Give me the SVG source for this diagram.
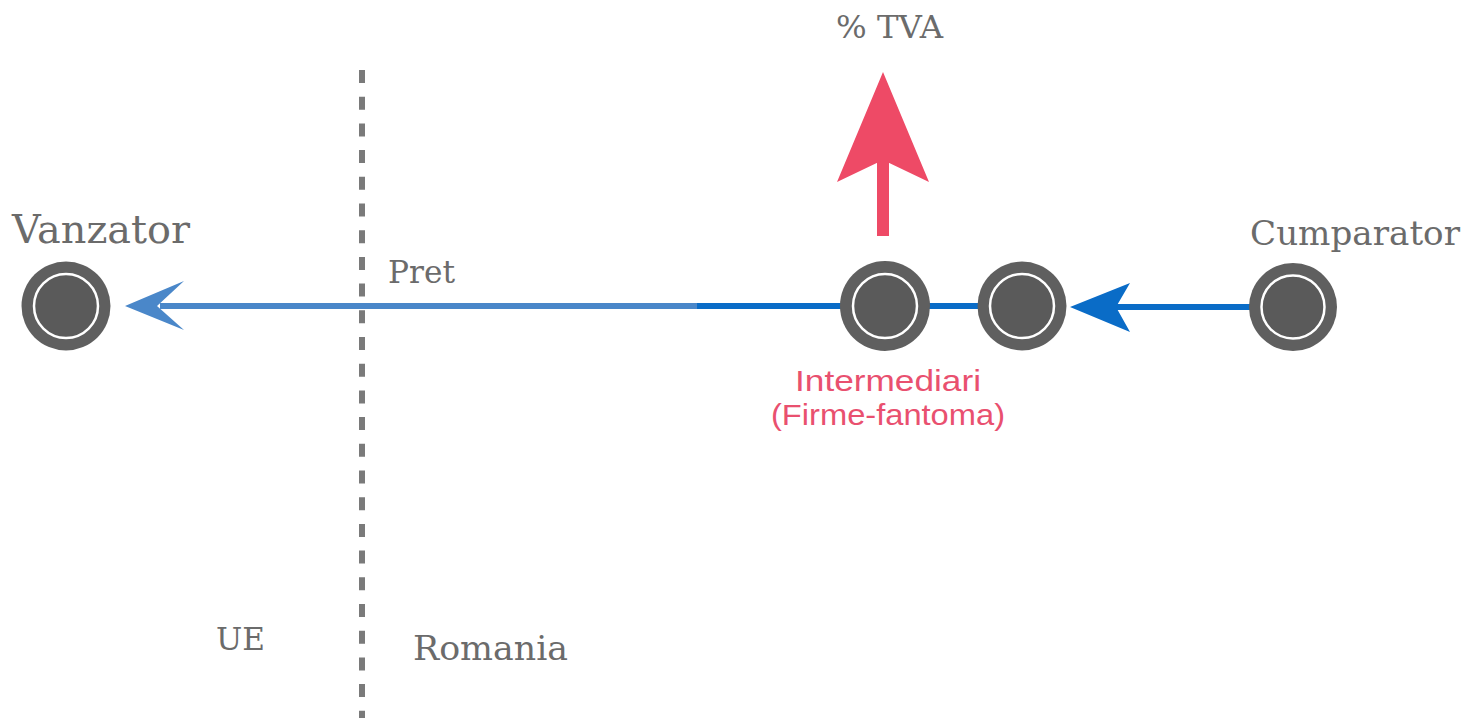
<svg xmlns="http://www.w3.org/2000/svg" width="1468" height="718" viewBox="0 0 1468 718">
<style>
.lbl{font-family:"DejaVu Serif","Liberation Serif",serif;fill:#6b6b6b;}
.pink{font-family:"Liberation Sans","Open Sans",sans-serif;fill:#e9506f;font-size:29px;text-anchor:middle;}
.outer{fill:#5f5f5f;}
.inner{fill:#5a5a5a;stroke:#ffffff;stroke-width:2.5;}
</style>
<rect width="1468" height="718" fill="#ffffff"/>
<line x1="362" y1="70" x2="362" y2="718" stroke="#7a7a7a" stroke-width="6" stroke-dasharray="13 13.7"/>
<g id="connectors">
  <line x1="160" y1="306" x2="700" y2="306" stroke="#4a87c9" stroke-width="6"/>
  <line x1="697" y1="306" x2="845" y2="306" stroke="#0a6cc7" stroke-width="6"/>
  <polygon points="125,306 184,281 157,306 184,330" fill="#4a87c9"/>
  <line x1="925" y1="306" x2="982" y2="306" stroke="#0a6cc7" stroke-width="6"/>
  <line x1="1110" y1="307" x2="1252" y2="307" stroke="#0a6cc7" stroke-width="6"/>
  <polygon points="1070,307 1130,283 1116,307 1130,332" fill="#0a6cc7"/>
  <rect x="877" y="155" width="12" height="81" fill="#ee4a66"/>
  <polygon points="883,72 929,182 883,160 837,182" fill="#ee4a66"/>
</g>
<g id="vanzator">
  <circle class="outer" cx="66" cy="306" r="44.5"/>
  <circle class="inner" cx="66" cy="306" r="32"/>
  <text class="lbl" x="12" y="243" font-size="40" textLength="178" lengthAdjust="spacingAndGlyphs">Vanzator</text>
</g>
<g id="intermediar1">
  <circle class="outer" cx="885" cy="306" r="45"/>
  <circle class="inner" cx="885" cy="306" r="32"/>
</g>
<g id="intermediar2">
  <circle class="outer" cx="1022" cy="306" r="44.5"/>
  <circle class="inner" cx="1022" cy="306" r="32"/>
</g>
<g id="cumparator">
  <circle class="outer" cx="1293" cy="307" r="44"/>
  <circle class="inner" cx="1293" cy="307" r="31.5"/>
  <text class="lbl" x="1250" y="245" font-size="34" textLength="210" lengthAdjust="spacingAndGlyphs">Cumparator</text>
</g>
<g id="labels">
  <text class="lbl" x="836" y="38" font-size="32" textLength="107" lengthAdjust="spacingAndGlyphs">% TVA</text>
  <text class="lbl" x="388" y="283" font-size="31" textLength="67" lengthAdjust="spacingAndGlyphs">Pret</text>
  <text class="lbl" x="216" y="650" font-size="31" textLength="49" lengthAdjust="spacingAndGlyphs">UE</text>
  <text class="lbl" x="413" y="660" font-size="34" textLength="155" lengthAdjust="spacingAndGlyphs">Romania</text>
  <text class="pink" x="888" y="391" textLength="186" lengthAdjust="spacingAndGlyphs">Intermediari</text>
  <text class="pink" x="888" y="425" textLength="234" lengthAdjust="spacingAndGlyphs">(Firme-fantoma)</text>
</g>
</svg>
